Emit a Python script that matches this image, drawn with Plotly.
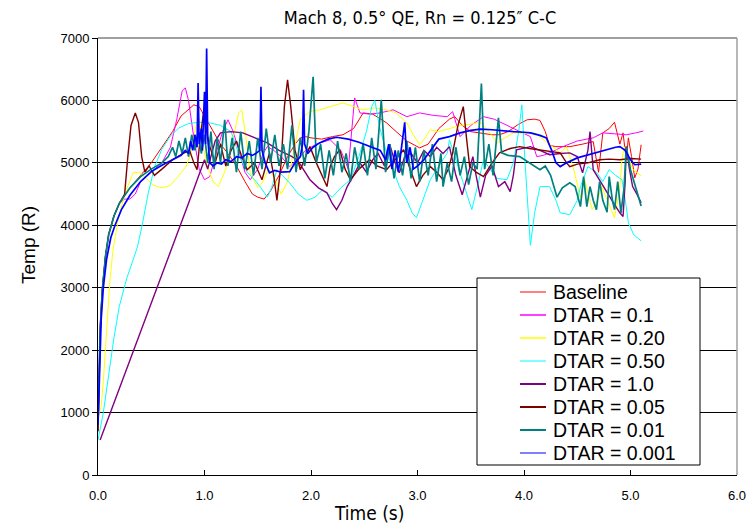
import plotly.graph_objects as go

# ---------------- data (time s, temperature R) ----------------
baseline = [(0,700),(0.01,1700),(0.02,2400),(0.04,3000),(0.07,3500),(0.1,3850),(0.15,4150),(0.2,4350),(0.3,4600),(0.4,4800),
            (0.5,5000),(0.6,5250),(0.7,5500),(0.78,5750),(0.85,5850),(0.9,5930),(0.95,5900),(1.0,5750),(1.08,5500),(1.15,5300),
            (1.22,5150),(1.3,4950),(1.38,4700),(1.45,4500),(1.5,4450),(1.56,4420),(1.62,4550),(1.7,4800),(1.78,5100),(1.85,5300),
            (1.9,5400),(1.95,5420),(2.0,5400),(2.1,5380),(2.2,5420),(2.3,5450),(2.4,5550),(2.49,5800),(2.58,5780),(2.65,5700),
            (2.71,5640),(2.8,5500),(2.9,5350),(3.02,5240),(3.1,5300),(3.2,5550),(3.3,5700),(3.35,5740),(3.42,5600),(3.5,5500),
            (3.6,5470),(3.7,5450),(3.77,5450),(3.85,5500),(3.95,5620),(4.03,5690),(4.1,5700),(4.15,5680),(4.2,5500),(4.24,5280),
            (4.3,5260),(4.43,5260),(4.55,5300),(4.65,5340),(4.7,4850),(4.74,5480),(4.8,5550),(4.85,5650),(4.9,5300),(4.93,5480),
            (4.96,5050),(4.98,5400),(5.01,5100),(5.04,4760),(5.07,4900),(5.1,5290)]

dtar_0_1 = [(0,800),(0.01,1500),(0.02,2200),(0.04,2900),(0.07,3500),(0.1,3850),(0.15,4150),(0.2,4350),(0.25,4420),(0.3,4420),
            (0.35,4500),(0.4,4700),(0.5,4850),(0.6,5000),(0.68,5250),(0.74,5700),(0.79,6150),(0.82,6200),(0.85,6000),(0.9,5400),
            (0.95,4900),(1.0,4730),(1.05,4780),(1.1,5100),(1.17,5500),(1.22,5690),(1.27,5500),(1.33,5160),(1.38,4850),(1.43,4730),
            (1.5,4900),(1.55,5150),(1.59,5260),(1.65,5200),(1.72,5100),(1.8,4940),(1.87,5050),(1.95,5200),(2.05,5300),(2.18,5370),
            (2.28,5200),(2.35,4900),(2.38,5500),(2.41,6040),(2.46,5800),(2.55,5780),(2.65,5800),(2.77,5850),(2.9,5740),(3.02,5800),
            (3.15,5760),(3.28,5740),(3.33,5820),(3.37,5600),(3.4,5420),(3.5,5600),(3.62,5740),(3.72,5700),(3.84,5600),(3.95,5500),
            (4.06,5420),(4.12,5100),(4.18,5120),(4.24,5160),(4.35,5250),(4.5,5350),(4.65,5400),(4.74,5480),(4.85,5460),(4.96,5450),
            (5.05,5480),(5.12,5510)]

dtar_0_20 = [(0,900),(0.03,1100),(0.05,1500),(0.066,1900),(0.09,2600),(0.11,3070),(0.14,3600),(0.19,4090),(0.25,4500),(0.33,4840),
             (0.39,4850),(0.45,4750),(0.52,4640),(0.6,4600),(0.68,4640),(0.76,4800),(0.83,4950),(0.88,5200),(0.92,5600),(0.95,5700),
             (0.98,5300),(1.03,4940),(1.08,4700),(1.13,4620),(1.2,4900),(1.27,5400),(1.32,5800),(1.35,5850),(1.39,5400),(1.43,4840),
             (1.5,4600),(1.55,4700),(1.6,4900),(1.66,4750),(1.72,4500),(1.78,4700),(1.85,5300),(1.9,5700),(1.99,5820),(2.08,5850),
             (2.18,5900),(2.3,5960),(2.4,5900),(2.49,5850),(2.6,5880),(2.71,5850),(2.8,5800),(2.9,5640),(2.96,5450),(3.02,5290),
             (3.07,5400),(3.12,5530),(3.2,5500),(3.3,5550),(3.4,5600),(3.5,5620),(3.59,5650),(3.67,5500),(3.75,5320),(3.82,5400),
             (3.9,5480),(4.0,5470),(4.1,5480),(4.2,5350),(4.34,5160),(4.4,5260),(4.46,4940),(4.53,4450),(4.57,4730),(4.64,4250),
             (4.69,4400),(4.73,4620),(4.78,4400),(4.85,4120),(4.9,4600),(4.92,5050),(4.94,5260),(4.98,5100),(5.02,4900),(5.06,4840),
             (5.1,4790)]

dtar_0_50 = [(0,560),(0.05,1000),(0.1,1600),(0.15,2200),(0.2,2700),(0.27,3150),(0.32,3400),(0.37,3650),(0.42,4050),(0.47,4500),
             (0.53,4930),(0.6,5220),(0.68,5430),(0.76,5560),(0.85,5630),(0.95,5650),(1.05,5640),(1.15,5600),(1.25,5500),(1.33,5100),
             (1.4,4850),(1.47,4730),(1.53,4600),(1.59,4450),(1.63,4600),(1.68,4890),(1.73,4800),(1.8,4680),(1.88,4500),(1.96,4400),
             (2.04,4450),(2.11,4570),(2.16,4500),(2.2,4450),(2.28,4600),(2.37,4730),(2.45,5100),(2.52,5500),(2.57,5900),(2.6,6000),
             (2.64,5600),(2.71,5160),(2.77,4900),(2.83,4620),(2.9,4400),(2.95,4200),(2.99,4120),(3.05,4400),(3.12,4730),(3.2,4950),
             (3.28,5160),(3.3,5370),(3.35,5100),(3.4,4840),(3.46,4500),(3.51,4250),(3.56,4600),(3.62,5050),(3.68,4900),(3.75,4750),
             (3.84,4730),(3.9,5000),(3.95,5500),(3.98,5930),(4.01,5000),(4.04,4100),(4.06,3680),(4.1,4200),(4.15,4620),(4.24,4620),
             (4.3,4400),(4.34,4200),(4.43,4170),(4.5,4400),(4.53,4620),(4.6,4940),(4.68,4850),(4.74,4700),(4.8,4890),(4.86,4800),
             (4.92,4730),(4.96,4300),(4.98,4040),(5.03,3850),(5.1,3750)]

dtar_1_0 = [(0.02,560),(0.2,1380),(0.4,2300),(0.6,3200),(0.8,4100),(0.9,4580),(1.0,5050),(1.03,4900),(1.06,5100),(1.1,5350),
            (1.15,5480),(1.25,5500),(1.36,5480),(1.48,5400),(1.59,5320),(1.7,5200),(1.8,5120),(1.87,5050),(1.93,4900),(1.99,4730),
            (2.07,4600),(2.15,4520),(2.2,4350),(2.24,4250),(2.29,4400),(2.34,4620),(2.4,4800),(2.46,5000),(2.52,4850),(2.58,5050),
            (2.63,5150),(2.69,4950),(2.74,5290),(2.79,5000),(2.83,4840),(2.88,5100),(2.94,5150),(3.0,5000),(3.06,5200),(3.12,5100),
            (3.18,5250),(3.24,5150),(3.3,5260),(3.36,4800),(3.42,4490),(3.47,4800),(3.52,5100),(3.55,4800),(3.59,4450),(3.64,4800),
            (3.7,4950),(3.76,4620),(3.82,4700),(3.87,4540),(3.9,4800),(3.93,5210),(4.0,5240),(4.06,5260),(4.15,5200),(4.24,5130),
            (4.34,5150),(4.43,5160),(4.5,5100),(4.55,4840),(4.6,5200),(4.62,5500),(4.65,4890),(4.7,4750),(4.74,4620),(4.8,4450),
            (4.84,4360),(4.9,4200),(4.93,4140),(4.95,4700),(4.96,5260),(4.99,4900),(5.02,4620),(5.06,4500),(5.1,4360)]

dtar_0_05 = [(0,700),(0.01,1600),(0.02,2300),(0.04,2950),(0.07,3500),(0.1,3850),(0.15,4150),(0.2,4350),(0.25,4500),(0.28,5100),
             (0.31,5600),(0.35,5800),(0.38,5650),(0.41,5100),(0.44,4850),(0.48,4950),(0.53,4800),(0.6,4900),(0.7,5050),(0.8,5150),
             (0.86,5200),(0.9,5000),(0.93,4890),(0.96,5400),(0.99,5800),(1.02,5500),(1.05,5260),(1.1,5000),(1.15,5300),(1.2,4950),
             (1.25,5200),(1.3,5350),(1.35,5100),(1.4,4890),(1.47,5000),(1.54,4730),(1.58,5000),(1.61,5160),(1.65,4800),(1.68,4400),
             (1.72,5000),(1.75,5900),(1.78,6330),(1.81,5900),(1.85,5200),(1.9,4890),(1.95,5100),(1.99,5260),(2.05,5000),(2.1,4800),
             (2.15,4620),(2.18,4940),(2.22,5100),(2.27,5210),(2.32,4900),(2.37,4730),(2.45,4900),(2.55,5050),(2.62,4950),(2.71,4890),
             (2.79,5050),(2.87,5210),(2.93,4900),(2.99,4620),(3.05,4800),(3.12,4940),(3.18,4850),(3.24,4730),(3.29,4900),(3.33,5160),
             (3.38,5600),(3.43,5900),(3.46,5400),(3.49,4940),(3.55,4850),(3.62,4780),(3.7,5000),(3.77,5160),(3.87,5230),(3.96,5260),
             (4.05,5230),(4.15,5210),(4.25,5180),(4.34,5160),(4.4,5000),(4.43,4940),(4.5,4980),(4.6,5000),(4.71,5050),(4.8,5060),
             (4.9,5050),(5.0,5070),(5.1,5060)]

dtar_0_01 = [(0,800),(0.01,1600),(0.02,2300),(0.04,2950),(0.07,3500),(0.1,3850),(0.15,4150),(0.2,4350),(0.3,4600),(0.4,4780),
             (0.5,4900),(0.6,5000),(0.66,5100),(0.7,5250),(0.73,5100),(0.76,5350),(0.79,5150),(0.82,5400),(0.85,5100),(0.88,5450),
             (0.91,5200),(0.94,5500),(0.97,5150),(1.0,5450),(1.03,5000),(1.06,5500),(1.09,4900),(1.12,5400),(1.15,5000),(1.19,5690),
             (1.22,4950),(1.26,5400),(1.3,4850),(1.34,5500),(1.38,4900),(1.42,5350),(1.46,4800),(1.5,5400),(1.54,4900),(1.58,5550),
             (1.62,5000),(1.66,5450),(1.7,4950),(1.74,5300),(1.78,4900),(1.82,5600),(1.86,4850),(1.9,5400),(1.94,4950),(1.98,5500),
             (2.02,6380),(2.05,5000),(2.09,5300),(2.13,4750),(2.17,5200),(2.21,4800),(2.25,5350),(2.29,4850),(2.33,5150),(2.37,4700),
             (2.41,5250),(2.45,4900),(2.49,5300),(2.53,4800),(2.57,5400),(2.61,4900),(2.66,6010),(2.7,4850),(2.74,5300),(2.78,4750),
             (2.82,5200),(2.86,4800),(2.9,5350),(2.94,4750),(2.98,5250),(3.02,4700),(3.06,5200),(3.1,4800),(3.14,5300),(3.18,4700),
             (3.22,5150),(3.24,4620),(3.28,5000),(3.32,4700),(3.36,5250),(3.4,4800),(3.44,5100),(3.48,4650),(3.52,5000),(3.56,4900),
             (3.6,6270),(3.63,4900),(3.67,5300),(3.71,4800),(3.76,5720),(3.79,5160),(3.85,5120),(3.96,5100),(4.05,5000),(4.15,4890),
             (4.2,4950),(4.25,4800),(4.31,4450),(4.36,4600),(4.43,4680),(4.48,4620),(4.53,4300),(4.56,4780),(4.59,4300),(4.62,4620),
             (4.65,4400),(4.68,4250),(4.71,4700),(4.74,4400),(4.78,4210),(4.8,4780),(4.83,4400),(4.85,4250),(4.88,4700),(4.91,4200),
             (4.94,4600),(4.96,5260),(5.0,4890),(5.05,4600),(5.1,4310)]

dtar_0_001 = [(0,800),(0.01,1500),(0.02,2100),(0.03,2500),(0.05,3000),(0.08,3450),(0.12,3800),(0.16,4000),(0.22,4250),(0.3,4480),
              (0.4,4700),(0.5,4860),(0.6,4960),(0.7,5050),(0.78,5120),(0.82,5200),(0.85,5150),(0.87,5350),(0.89,5200),(0.91,5450),
              (0.93,5250),(0.94,6280),(0.95,5300),(0.97,5550),(0.98,5200),(1.0,6140),(1.01,5300),(1.02,6830),(1.03,5400),(1.05,5000),
              (1.08,4950),(1.12,5000),(1.16,4980),(1.2,5050),(1.25,5020),(1.3,5100),(1.35,5080),(1.4,5150),(1.45,5120),(1.49,5160),
              (1.52,5200),(1.53,6220),(1.54,5200),(1.57,5000),(1.61,4840),(1.66,4880),(1.72,4850),(1.8,4860),(1.85,5000),(1.9,5100),
              (1.92,5300),(1.93,6170),(1.94,5300),(1.97,5150),(2.02,5250),(2.08,5320),(2.16,5380),(2.24,5410),(2.35,5380),(2.45,5330),
              (2.55,5270),(2.65,5200),(2.7,5050),(2.73,5300),(2.76,4900),(2.79,5200),(2.82,4850),(2.85,5300),(2.88,5650),(2.9,5000),
              (2.93,5250),(2.96,4900),(3.0,4950),(3.06,5050),(3.12,5200),(3.2,5380),(3.3,5420),(3.4,5480),(3.5,5520),(3.59,5540),
              (3.7,5530),(3.8,5510),(3.9,5500),(4.0,5490),(4.06,5480),(4.15,5440),(4.21,5400),(4.26,5200),(4.3,5000),(4.34,4940),
              (4.4,5000),(4.5,5080),(4.6,5130),(4.7,5180),(4.8,5220),(4.86,5250),(4.9,5260),(4.95,5200),(5.0,5050),(5.04,4970),
              (5.1,4980)]

series_names = ["Baseline", "DTAR = 0.1", "DTAR = 0.20", "DTAR = 0.50", "DTAR = 1.0",
                "DTAR = 0.05", "DTAR = 0.01", "DTAR = 0.001"]
series_data = [baseline, dtar_0_1, dtar_0_20, dtar_0_50, dtar_1_0, dtar_0_05, dtar_0_01, dtar_0_001]
series_colors = ["#FF0000", "#FF00FF", "#FFFF00", "#00FFFF", "#800080", "#800000", "#008080", "#0000FF"]
series_widths = [1, 1, 1, 1, 1.4, 1.4, 1.7, 1.7]
legend_widths = [1, 1.5, 1.5, 1, 2, 2, 2, 1]

x_ticks = [0, 1, 2, 3, 4, 5, 6]
x_tick_labels = ["0.0", "1.0", "2.0", "3.0", "4.0", "5.0", "6.0"]
y_ticks = [0, 1000, 2000, 3000, 4000, 5000, 6000, 7000]

title_text = "Mach 8, 0.5\u00b0 QE, Rn = 0.125\u2033 C-C"

# ---------------- figure ----------------
W, H = 749, 529
ml, mr, mt, mb = 98, 12, 38, 54
pw, ph = W - ml - mr, H - mt - mb

def px_x(p):
    return (p - ml) / pw

def px_y(p):
    return (H - mb - p) / ph

fig = go.Figure()
for name, data, col, lw in zip(series_names, series_data, series_colors, series_widths):
    t = [d[0] for d in data]
    v = [d[1] for d in data]
    fig.add_trace(go.Scatter(x=t, y=v, mode="lines", name=name,
                             line=dict(color=col, width=lw), showlegend=False))

base_font = "Liberation Sans, Arial, sans-serif"
narrow_font = "Liberation Sans Narrow, Arial Narrow, DejaVu Sans Condensed, sans-serif"

shapes = [
    dict(type="line", xref="paper", yref="paper", x0=0, x1=1, y0=1, y1=1,
         line=dict(color="#808080", width=1.5), layer="above"),
    dict(type="line", xref="paper", yref="paper", x0=1, x1=1, y0=0, y1=1,
         line=dict(color="#A0A0A0", width=1.5), layer="above"),
    # legend box
    dict(type="rect", xref="paper", yref="paper",
         x0=px_x(477), x1=px_x(700), y0=px_y(465), y1=px_y(278),
         line=dict(color="black", width=1), fillcolor="white", layer="above"),
]
annotations = [
    dict(text="Temp (R)", xref="paper", yref="paper", x=px_x(28), y=px_y(245),
         textangle=-90, showarrow=False, xanchor="center", yanchor="middle",
         font=dict(family=base_font, size=19, color="black")),
    dict(text="Time (s)", xref="paper", yref="paper", x=px_x(369), y=px_y(513),
         showarrow=False, xanchor="center", yanchor="middle",
         font=dict(family=narrow_font, size=19, color="black")),
]
# legend entries (sample line + label)
for i, (name, col, lw) in enumerate(zip(series_names, series_colors, legend_widths)):
    yy = px_y(292 + 23 * i)
    shapes.append(dict(type="line", xref="paper", yref="paper",
                       x0=px_x(520), x1=px_x(546), y0=yy, y1=yy,
                       line=dict(color=col, width=lw), layer="above"))
    annotations.append(dict(text=name, xref="paper", yref="paper", x=px_x(551), y=yy,
                            showarrow=False, xanchor="left", yanchor="middle",
                            font=dict(family=base_font, size=19.5, color="black")))

fig.update_layout(
    width=W, height=H, autosize=False,
    margin=dict(l=ml, r=mr, t=mt, b=mb, pad=0, autoexpand=False),
    paper_bgcolor="white", plot_bgcolor="white",
    font=dict(family=base_font, color="black", size=13),
    showlegend=False,
    title=dict(text=title_text, x=px_x(420), xref="paper", xanchor="center",
               y=1 - 18 / H, yref="container", yanchor="middle",
               font=dict(family=narrow_font, size=18, color="black")),
    xaxis=dict(range=[0, 6], tickvals=x_ticks, ticktext=x_tick_labels, automargin=False,
               showgrid=False, zeroline=False, showline=True, linecolor="black", linewidth=1,
               ticks="inside", ticklen=5, tickcolor="black",
               tickfont=dict(family=base_font, size=13, color="black"),
               ticklabelstandoff=8),
    yaxis=dict(range=[0, 7000], tickvals=y_ticks, automargin=False,
               showgrid=True, gridcolor="black", gridwidth=1, zeroline=False,
               showline=True, linecolor="black", linewidth=1,
               ticks="outside", ticklen=5, tickcolor="black",
               tickfont=dict(family=base_font, size=13, color="black")),
    shapes=shapes,
    annotations=annotations,
)

fig.write_html("out.html")
